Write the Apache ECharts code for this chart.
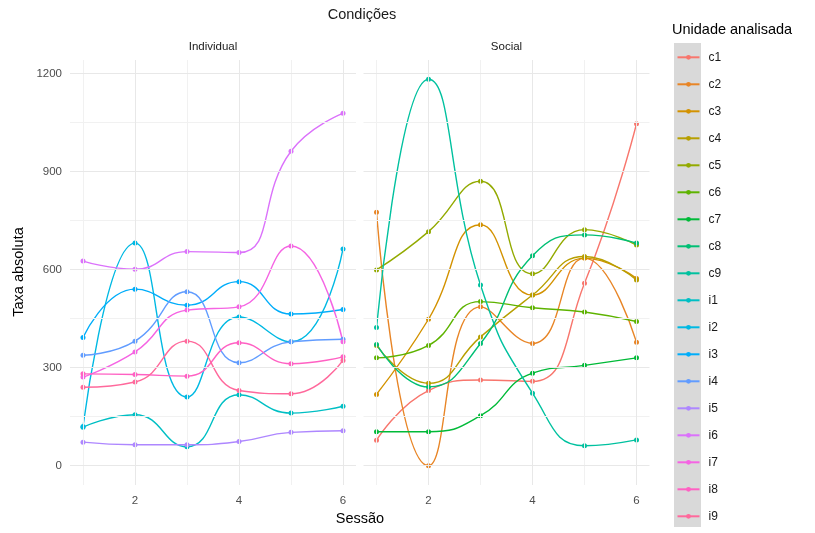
<!DOCTYPE html>
<html>
<head>
<meta charset="utf-8">
<script src="https://cdn.jsdelivr.net/npm/echarts@6/dist/echarts.min.js"></script>
<style>
  html, body { margin: 0; padding: 0; background: #ffffff; }
  #chart { width: 815px; height: 533px; }
</style>
</head>
<body>
<div id="chart"></div>
<script>
// Sessions on the x axis
const sessions = [1, 2, 3, 4, 5, 6];
const xTicks = [2, 4, 6];
const xMinor = [1, 3, 5];
const yTicks = [0, 300, 600, 900, 1200];
const yMinor = [150, 450, 750, 1050];

// Facet panels
const panelNames = ['Individual', 'Social'];

// Social condition units
const unitsSocial = ['c1', 'c2', 'c3', 'c4', 'c5', 'c6', 'c7', 'c8', 'c9'];
const c1 = [78, 230, 262, 258, 558, 1046];
const c2 = [775, 0, 486, 374, 635, 378];
const c3 = [218, 448, 737, 522, 635, 573];
const c4 = [368, 252, 394, 522, 640, 568];
const c5 = [599, 716, 870, 587, 722, 675];
const c6 = [330, 368, 502, 483, 470, 441];
const c7 = [104, 104, 153, 283, 307, 330];
const c8 = [371, 241, 374, 642, 706, 681];
const c9 = [423, 1182, 553, 222, 61, 79];

// Individual condition units
const unitsIndividual = ['i1', 'i2', 'i3', 'i4', 'i5', 'i6', 'i7', 'i8', 'i9'];
const i1 = [118, 156, 58, 217, 161, 182];
const i2 = [120, 681, 210, 455, 379, 663];
const i3 = [392, 540, 491, 563, 464, 478];
const i4 = [338, 381, 532, 315, 379, 387];
const i5 = [72, 64, 64, 74, 102, 107];
const i6 = [626, 601, 655, 652, 962, 1078];
const i7 = [271, 348, 476, 486, 672, 379];
const i8 = [281, 279, 274, 376, 312, 333];
const i9 = [240, 256, 381, 230, 220, 322];

const valuesByUnit = { c1, c2, c3, c4, c5, c6, c7, c8, c9, i1, i2, i3, i4, i5, i6, i7, i8, i9 };

// Evenly spaced HCL hues (l = 65, c = 100), converted to sRGB hex
function hclHex(h, c, l) {
  const WX = 95.047, WY = 100.0, WZ = 108.883;
  const un = 4 * WX / (WX + 15 * WY + 3 * WZ);
  const vn = 9 * WY / (WX + 15 * WY + 3 * WZ);
  const rad = h * Math.PI / 180;
  const U = c * Math.cos(rad), V = c * Math.sin(rad);
  const Y = WY * (l > 7.999592 ? Math.pow((l + 16) / 116, 3) : l / 903.3);
  const u = U / (13 * l) + un, v = V / (13 * l) + vn;
  const X = 9 * Y * u / (4 * v);
  const Z = -X / 3 - 5 * Y + 3 * Y / v;
  const g = t => (t > 0.00304 ? 1.055 * Math.pow(t, 1 / 2.4) - 0.055 : 12.92 * t);
  const r = g((3.240479 * X - 1.537150 * Y - 0.498535 * Z) / WY);
  const gg = g((-0.969256 * X + 1.875992 * Y + 0.041556 * Z) / WY);
  const b = g((0.055648 * X - 0.204043 * Y + 1.057311 * Z) / WY);
  const hx = t => {
    const n = Math.round(Math.max(0, Math.min(1, t)) * 255);
    return n.toString(16).padStart(2, '0');
  };
  return '#' + hx(r) + hx(gg) + hx(b);
}

const allUnits = unitsSocial.concat(unitsIndividual);
const palette = {};
allUnits.forEach((u, k) => {
  palette[u] = hclHex(15 + k * 360 / allUnits.length, 100, 65);
});

const FONT = 'Liberation Sans, Arial, sans-serif';

const majorLine = { color: '#e8e8e8', width: 1, type: 'solid' };
const minorLine = { color: '#f1f1f1', width: 1, type: 'solid' };

// Panel grid lines, drawn through each panel's own axes
function gridLines(idx) {
  const data = []
    .concat(xMinor.map(v => ({ xAxis: v, lineStyle: minorLine })))
    .concat(yMinor.map(v => ({ yAxis: v, lineStyle: minorLine })))
    .concat(xTicks.map(v => ({ xAxis: v, lineStyle: majorLine })))
    .concat(yTicks.map(v => ({ yAxis: v, lineStyle: majorLine })));
  return {
    type: 'line',
    name: 'grade-' + idx,
    xAxisIndex: idx,
    yAxisIndex: idx,
    data: [],
    silent: true,
    z: 1,
    markLine: {
      silent: true,
      symbol: ['none', 'none'],
      label: { show: false },
      emphasis: { disabled: true },
      animation: false,
      data: data
    }
  };
}

function unitSeries(name, idx) {
  const vals = valuesByUnit[name];
  return {
    type: 'line',
    name: name,
    xAxisIndex: idx,
    yAxisIndex: idx,
    data: sessions.map((s, k) => [s, vals[k]]),
    smooth: 0.5,
    symbol: 'circle',
    symbolSize: 5,
    showSymbol: true,
    lineStyle: { width: 1.4, color: palette[name] },
    itemStyle: { color: palette[name], borderWidth: 0 },
    emphasis: { disabled: true },
    z: 3
  };
}

const xAxisBase = {
  type: 'value',
  min: 0.75,
  max: 6.25,
  axisLine: { show: false },
  axisTick: { show: false },
  splitLine: { show: false },
  axisLabel: { customValues: xTicks, color: '#4d4d4d', fontSize: 11.5, fontFamily: FONT, margin: 10 }
};

const yAxisBase = {
  type: 'value',
  min: -59,
  max: 1241,
  axisLine: { show: false },
  axisTick: { show: false },
  splitLine: { show: false }
};

const chart = echarts.init(document.getElementById('chart'), null, { renderer: 'canvas' });

const option = {
  animation: false,
  backgroundColor: '#ffffff',
  grid: [
    { left: 70, top: 60, width: 286, height: 425 },
    { left: 363.5, top: 60, width: 286, height: 425 }
  ],
  xAxis: [
    Object.assign({ gridIndex: 0 }, xAxisBase),
    Object.assign({ gridIndex: 1 }, xAxisBase)
  ],
  yAxis: [
    Object.assign({ gridIndex: 0 }, yAxisBase, {
      axisLabel: {
        customValues: yTicks, color: '#4d4d4d', fontSize: 11.5, fontFamily: FONT, margin: 8,
        formatter: v => String(v)
      }
    }),
    Object.assign({ gridIndex: 1 }, yAxisBase, { axisLabel: { show: false } })
  ],
  legend: {
    orient: 'vertical',
    left: 676.5,
    top: 51.3,
    padding: 0,
    height: 490,
    itemWidth: 22,
    itemHeight: 6,
    itemGap: 15,
    selectedMode: false,
    data: allUnits,
    itemStyle: { borderWidth: 0 },
    textStyle: { fontSize: 12, color: '#1a1a1a', fontFamily: FONT, padding: [0, 0, 0, 4] }
  },
  graphic: [
    { type: 'rect', z: 0, silent: true, shape: { x: 674, y: 43, width: 27, height: 484 }, style: { fill: '#d9d9d9' } },
    { type: 'text', silent: true, x: 362, y: 15, style: { text: 'Condições', font: '14.5px ' + FONT, fill: '#1a1a1a', align: 'center', verticalAlign: 'middle' } },
    { type: 'text', silent: true, x: 213, y: 47, style: { text: panelNames[0], font: '11.5px ' + FONT, fill: '#1a1a1a', align: 'center', verticalAlign: 'middle' } },
    { type: 'text', silent: true, x: 506.5, y: 47, style: { text: panelNames[1], font: '11.5px ' + FONT, fill: '#1a1a1a', align: 'center', verticalAlign: 'middle' } },
    { type: 'text', silent: true, x: 360, y: 519, style: { text: 'Sessão', font: '14.5px ' + FONT, fill: '#000000', align: 'center', verticalAlign: 'middle' } },
    { type: 'text', silent: true, x: 19, y: 272, rotation: Math.PI / 2, style: { text: 'Taxa absoluta', font: '14.5px ' + FONT, fill: '#000000', align: 'center', verticalAlign: 'middle' } },
    { type: 'text', silent: true, x: 672, y: 30, style: { text: 'Unidade analisada', font: '14.5px ' + FONT, fill: '#000000', align: 'left', verticalAlign: 'middle' } }
  ],
  series: [gridLines(0), gridLines(1)]
    .concat(unitsIndividual.map(u => unitSeries(u, 0)))
    .concat(unitsSocial.map(u => unitSeries(u, 1)))
};

chart.setOption(option);
</script>
</body>
</html>
